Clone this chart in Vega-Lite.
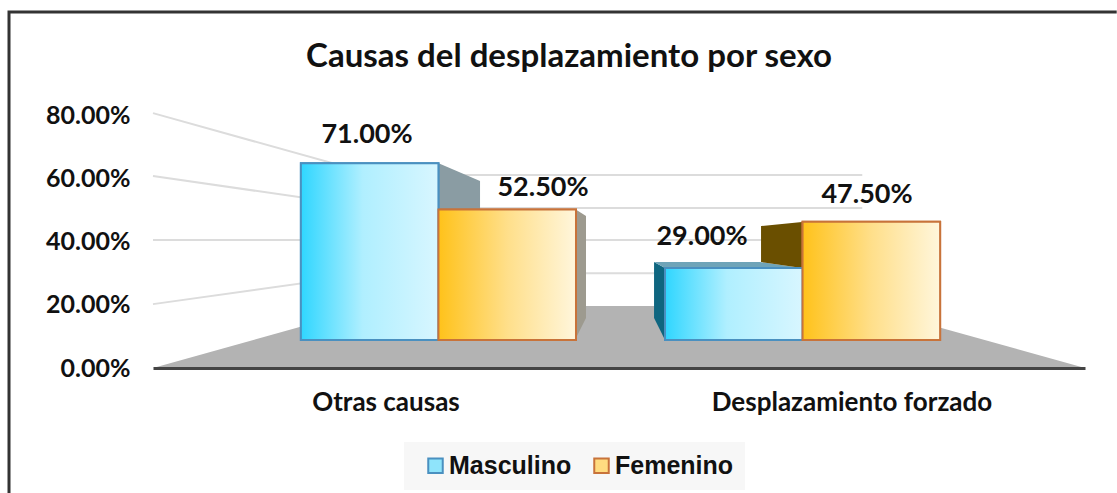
{
"$schema":"https://vega.github.io/schema/vega-lite/v6.json",
"width":932,"height":253,
"autosize":{"type":"none"},
"padding":{"left":153,"top":115,"right":32,"bottom":125},
"background":"#ffffff",
"title":{"text":"Causas del desplazamiento por sexo","frame":"group","anchor":"middle","dx":-50,"offset":-68,"font":"Lato","fontSize":33,"fontWeight":"bold","color":"#111111"},
"config":{"view":{"stroke":null}},
"datasets":{
"barras":[
{"causa":"Otras causas","sexo":"Masculino","valor":71.0,"etiqueta":"71.00%"},
{"causa":"Otras causas","sexo":"Femenino","valor":52.5,"etiqueta":"52.50%"},
{"causa":"Desplazamiento forzado","sexo":"Masculino","valor":29.0,"etiqueta":"29.00%"},
{"causa":"Desplazamiento forzado","sexo":"Femenino","valor":47.5,"etiqueta":"47.50%"}
],
"piso":[
{"x":0,"y":0,"y2":0},{"x":23.8,"y":19.6,"y2":0},{"x":76.1,"y":19.6,"y2":0},{"x":100,"y":0,"y2":0}
],
"pared":[
{"nivel":20,"x":0,"y":20.2},{"nivel":20,"x":23.8,"y":30},{"nivel":20,"x":76.1,"y":30},
{"nivel":40,"x":0,"y":40.5},{"nivel":40,"x":23.8,"y":40.5},{"nivel":40,"x":76.1,"y":40.5},
{"nivel":60,"x":0,"y":60.7},{"nivel":60,"x":23.8,"y":50.6},{"nivel":60,"x":76.1,"y":50.6},
{"nivel":80,"x":0,"y":80.6},{"nivel":80,"x":23.8,"y":61},{"nivel":80,"x":76.1,"y":61}
],
"caras":[
{"cara":"a","x":30.58,"y":64.8,"y2":50.3},{"cara":"a","x":35.09,"y":59.1,"y2":50.3},
{"cara":"b","x":45.28,"y":50.3,"y2":8.85},{"cara":"b","x":46.46,"y":48.1,"y2":15.8},
{"cara":"c","x":53.76,"y":33.5,"y2":15.8},{"cara":"c","x":54.94,"y":31.6,"y2":8.85},
{"cara":"d","x":53.76,"y":33.5,"y2":33.5},{"cara":"d","x":54.94,"y":33.5,"y2":31.6},{"cara":"d","x":65.13,"y":33.5,"y2":31.6},{"cara":"d","x":69.64,"y":31.6,"y2":31.6},
{"cara":"e","x":65.24,"y":44.9,"y2":33.5},{"cara":"e","x":69.64,"y":46.2,"y2":31.6}
],
"marco":[
{"x":-15.45,"y":-39.5},{"x":-15.45,"y":112.6},{"x":103.4,"y":112.6}
]
},
"resolve":{"scale":{"x":"independent","y":"independent","xOffset":"independent","color":"independent","stroke":"independent"}},
"layer":[
{"data":{"name":"piso"},"mark":{"type":"area","color":"#b3b3b3","interpolate":"linear"},
"encoding":{"x":{"field":"x","type":"quantitative","scale":{"domain":[0,100],"nice":false},"axis":null},
"y":{"field":"y","type":"quantitative","scale":{"domain":[0,80],"nice":false},"axis":null},"y2":{"field":"y2"}}},
{"data":{"name":"pared"},"mark":{"type":"line","color":"#dcdcdc","strokeWidth":2},
"encoding":{"x":{"field":"x","type":"quantitative","scale":{"domain":[0,100],"nice":false},"axis":null},
"y":{"field":"y","type":"quantitative","scale":{"domain":[0,80],"nice":false},"axis":null},"detail":{"field":"nivel"}}},
{"data":{"name":"marco"},"mark":{"type":"line","color":"#333333","strokeWidth":3,"clip":false},
"encoding":{"x":{"field":"x","type":"quantitative","scale":{"domain":[0,100],"nice":false},"axis":null},
"y":{"field":"y","type":"quantitative","scale":{"domain":[0,80],"nice":false},"axis":null},"order":{"field":"y"}}},
{"data":{"name":"barras"},"mark":{"type":"bar","opacity":0},
"encoding":{"x":{"field":"causa","type":"nominal","sort":["Otras causas","Desplazamiento forzado"],"scale":{"padding":0},
"axis":{"title":null,"labelAngle":0,"ticks":false,"domainWidth":3,"domainColor":"#444444","labelFont":"Lato","labelFontSize":26,"labelFontWeight":"bold","labelColor":"#111111","labelPadding":21,"labelLimit":400,"zindex":1}},
"y":{"datum":0,"type":"quantitative","scale":{"domain":[0,80],"nice":false},
"axis":{"title":null,"values":[0,20,40,60,80],"domain":false,"ticks":false,"grid":false,"labelExpr":"format(datum.value,'.2f')+'%'","labelFont":"Lato","labelFontSize":25,"labelFontWeight":"bold","labelColor":"#111111","labelPadding":23}}}},
{"data":{"name":"caras"},"mark":{"type":"area","interpolate":"linear"},
"encoding":{"x":{"field":"x","type":"quantitative","scale":{"domain":[0,100],"nice":false},"axis":null},
"y":{"field":"y","type":"quantitative","scale":{"domain":[0,80],"nice":false},"axis":null},"y2":{"field":"y2"},
"color":{"field":"cara","type":"nominal","legend":null,"scale":{"domain":["a","b","c","d","e"],"range":["#8a9ca3","#9d9a8f","#0f6680","#6fa4b8","#6a4f00"]}}}},
{"data":{"name":"barras"},"mark":{"type":"bar","strokeWidth":2},
"encoding":{"x":{"field":"causa","type":"nominal","scale":{"domain":["Otras causas","Desplazamiento forzado"],"paddingInner":0.2445,"paddingOuter":0.402,"range":[1.5,933.5]},"axis":null},
"xOffset":{"field":"sexo","type":"nominal","scale":{"domain":["Masculino","Femenino"],"paddingInner":0,"paddingOuter":0}},
"y":{"field":"valor","type":"quantitative","scale":{"domain":[-11.2,90.4],"nice":false},"axis":null},"y2":{"datum":0},
"color":{"field":"sexo","type":"nominal","scale":{"domain":["Masculino","Femenino"],"range":["#8fe4fb","#ffdc80"]},
"legend":{"title":null,"orient":"none","legendX":251,"legendY":327,"direction":"horizontal","columns":2,"fillColor":"#f7f7f7","padding":11,"symbolType":"square","symbolSize":210,"symbolStrokeWidth":2,"symbolOffset":8,"labelFont":"Liberation Sans","labelFontSize":25,"labelFontWeight":"bold","labelColor":"#111111","columnPadding":9,"labelOffset":1}},
"stroke":{"field":"sexo","type":"nominal","scale":{"domain":["Masculino","Femenino"],"range":["#4a90c0","#c8733a"]},"legend":null}}},
{"data":{"name":"barras"},"transform":[{"filter":"datum.sexo==='Masculino'"}],
"mark":{"type":"bar","stroke":"#4a90c0","strokeWidth":2,"color":{"gradient":"linear","x1":0,"y1":0,"x2":1,"y2":0,"stops":[{"offset":0,"color":"#2fd6ff"},{"offset":0.45,"color":"#b0efff"},{"offset":1,"color":"#d8f6ff"}]}},
"encoding":{"x":{"field":"causa","type":"nominal","scale":{"domain":["Otras causas","Desplazamiento forzado"],"paddingInner":0.2445,"paddingOuter":0.402,"range":[1.5,933.5]},"axis":null},
"xOffset":{"field":"sexo","type":"nominal","scale":{"domain":["Masculino","Femenino"],"paddingInner":0,"paddingOuter":0}},
"y":{"field":"valor","type":"quantitative","scale":{"domain":[-11.2,90.4],"nice":false},"axis":null},"y2":{"datum":0}}},
{"data":{"name":"barras"},"transform":[{"filter":"datum.sexo==='Femenino'"}],
"mark":{"type":"bar","stroke":"#c8733a","strokeWidth":2,"color":{"gradient":"linear","x1":0,"y1":0,"x2":1,"y2":0,"stops":[{"offset":0,"color":"#ffc21a"},{"offset":0.5,"color":"#ffdf8a"},{"offset":1,"color":"#fff6dc"}]}},
"encoding":{"x":{"field":"causa","type":"nominal","scale":{"domain":["Otras causas","Desplazamiento forzado"],"paddingInner":0.2445,"paddingOuter":0.402,"range":[1.5,933.5]},"axis":null},
"xOffset":{"field":"sexo","type":"nominal","scale":{"domain":["Masculino","Femenino"],"paddingInner":0,"paddingOuter":0}},
"y":{"field":"valor","type":"quantitative","scale":{"domain":[-11.2,90.4],"nice":false},"axis":null},"y2":{"datum":0}}},
{"data":{"name":"barras"},"transform":[{"filter":"datum.etiqueta==='71.00%'"}],
"mark":{"type":"text","font":"Lato","fontSize":27,"fontWeight":"bold","color":"#111111","dx":-19,"dy":-28},
"encoding":{"x":{"field":"causa","type":"nominal","scale":{"domain":["Otras causas","Desplazamiento forzado"]},"axis":null},
"y":{"field":"valor","type":"quantitative","scale":{"domain":[-11.2,90.4],"nice":false},"axis":null},"text":{"field":"etiqueta"}}},
{"data":{"name":"barras"},"transform":[{"filter":"datum.etiqueta==='52.50%'"}],
"mark":{"type":"text","font":"Lato","fontSize":27,"fontWeight":"bold","color":"#111111","dx":157,"dy":-21},
"encoding":{"x":{"field":"causa","type":"nominal","scale":{"domain":["Otras causas","Desplazamiento forzado"]},"axis":null},
"y":{"field":"valor","type":"quantitative","scale":{"domain":[-11.2,90.4],"nice":false},"axis":null},"text":{"field":"etiqueta"}}},
{"data":{"name":"barras"},"transform":[{"filter":"datum.etiqueta==='29.00%'"}],
"mark":{"type":"text","font":"Lato","fontSize":27,"fontWeight":"bold","color":"#111111","dx":-150,"dy":-31},
"encoding":{"x":{"field":"causa","type":"nominal","scale":{"domain":["Otras causas","Desplazamiento forzado"]},"axis":null},
"y":{"field":"valor","type":"quantitative","scale":{"domain":[-11.2,90.4],"nice":false},"axis":null},"text":{"field":"etiqueta"}}},
{"data":{"name":"barras"},"transform":[{"filter":"datum.etiqueta==='47.50%'"}],
"mark":{"type":"text","font":"Lato","fontSize":27,"fontWeight":"bold","color":"#111111","dx":15,"dy":-27},
"encoding":{"x":{"field":"causa","type":"nominal","scale":{"domain":["Otras causas","Desplazamiento forzado"]},"axis":null},
"y":{"field":"valor","type":"quantitative","scale":{"domain":[-11.2,90.4],"nice":false},"axis":null},"text":{"field":"etiqueta"}}}
]
}
